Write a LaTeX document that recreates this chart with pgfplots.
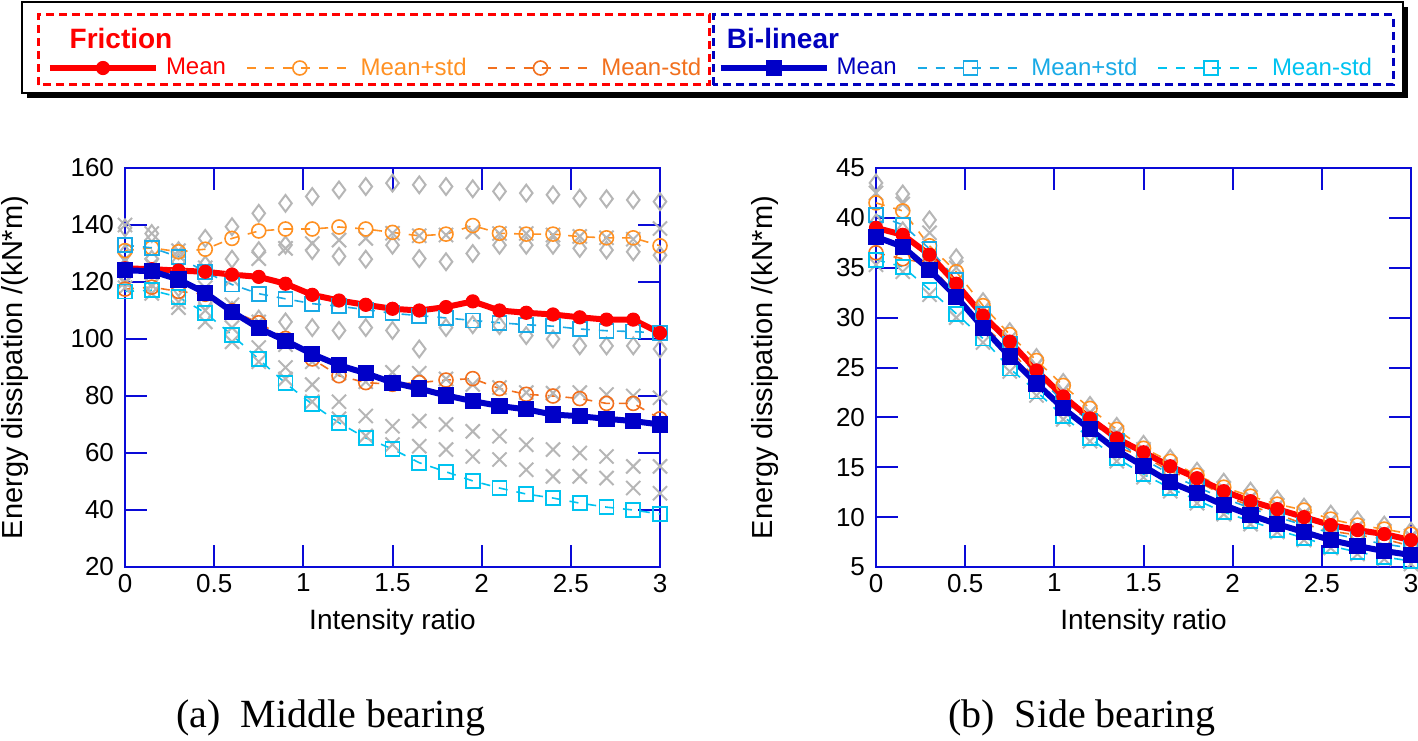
\documentclass[border=0pt]{standalone}
\usepackage{fontspec}
\setmainfont{Liberation Sans}
\newfontfamily\capfont{Liberation Serif}
\usepackage{pgfplots}
\usepackage{pgfplotstable}
\pgfplotsset{compat=1.18}
\usetikzlibrary{plotmarks}

\definecolor{cred}{RGB}{255,0,0}
\definecolor{corangeP}{RGB}{255,145,35}
\definecolor{corangeN}{RGB}{242,112,30}
\definecolor{cbluem}{RGB}{0,0,200}
\definecolor{cbluelg}{RGB}{0,0,190}
\definecolor{ccyanP}{RGB}{25,170,230}
\definecolor{ccyanN}{RGB}{0,195,240}
\definecolor{cgray}{RGB}{182,182,182}
\definecolor{cblueax}{RGB}{10,10,215}

\pgfplotstableread{
x     fm     fp     fn     bm     bp     bn     d1     d2     d3     x1     x2    x3    x4
0     124.8  131.0  117.5  124.1  132.9  116.7  139.0  130.0  122.0  140.0  128.0 120.0 118.0
0.15  124.5  132.0  118.2  123.8  132.0  117.1  137.0  128.0  121.0  137.0  126.0 119.0 116.0
0.3   124.0  130.6  116.7  120.9  128.8  114.7  131.0  127.0  118.0  131.0  122.0 113.0 111.0
0.45  123.6  131.5  115.7  116.2  123.5  109.2  135.3  126.0  113.0  125.0  118.0 110.0 106.0
0.6   122.6  135.3  109.9  109.6  119.1  101.4  139.4  128.0  110.0  121.0  112.0 104.0 99.0
0.75  121.8  137.9  105.7  103.8  115.9  92.9   144.1  131.0  107.0  128.2  106.0 97.0  92.0
0.9   119.4  138.6  100.2  99.4   114.1  84.5   147.6  133.0  106.0  131.8  98.0  90.0  86.0
1.05  115.5  138.6  93.0   94.7   112.4  77.1   150.0  131.0  104.0  133.5  92.0  84.0  78.0
1.2   113.5  139.3  87.1   90.8   111.5  70.6   152.3  129.0  103.0  134.7  88.0  78.0  72.0
1.35  112.0  138.6  84.7   88.0   110.3  65.3   153.5  128.0  104.0  135.3  85.0  73.0  66.0
1.5   110.6  137.4  84.1   84.7   109.0  61.4   154.7  132.9  103.0  137.1  88.3  69.4  63.0
1.65  110.0  136.2  84.7   82.6   108.2  56.6   154.1  128.2  96.5   136.2  88.0  71.2  62.4
1.8   111.2  136.8  85.6   80.2   107.4  53.4   153.5  127.1  104.0  136.5  86.0  70.0  61.2
1.95  113.2  139.8  86.1   78.2   106.5  50.2   152.7  130.0  105.0  137.6  84.0  67.6  58.8
2.1   110.0  137.1  82.6   76.5   105.7  47.7   151.8  132.9  104.7  137.0  83.0  65.9  57.7
2.25  109.2  136.8  80.6   75.3   105.0  45.6   151.2  132.9  101.2  137.0  81.2  62.9  54.1
2.4   108.6  136.8  80.0   73.5   104.5  44.2   150.6  132.9  100.0  136.5  81.0  61.2  51.8
2.55  107.6  135.9  79.1   72.9   103.5  42.4   149.4  131.8  97.6   136.0  81.2  60.0  51.8
2.7   106.8  135.5  77.4   72.0   102.9  41.0   149.2  131.2  97.6   135.5  80.5  58.8  51.2
2.85  106.8  135.5  77.4   71.2   102.6  40.0   148.8  130.6  97.6   135.0  80.0  55.3  47.7
3     102.1  132.7  72.0   70.0   102.1  38.6   148.2  129.4  96.5   138.8  79.4  55.3  45.9
}\tabL

\pgfplotstableread{
x     fm    fp    fn    bm    bp    bn    d1    d2    x1    x2
0     39.0  41.5  36.5  38.1  40.3  35.8  43.5  39.5  42.5  35.3
0.15  38.3  40.7  35.9  37.1  39.3  35.1  42.4  38.7  41.4  34.6
0.3   36.3  37.2  35.4  34.8  36.9  32.8  39.8  36.0  38.5  32.3
0.45  33.4  34.6  32.2  32.1  33.8  30.4  36.0  33.0  35.0  30.0
0.6   30.2  31.2  29.2  29.0  30.4  27.9  31.6  30.0  30.8  27.5
0.75  27.6  28.3  26.9  26.1  27.4  24.9  28.6  27.0  27.9  24.6
0.9   24.7  25.7  23.7  23.4  24.2  22.6  26.0  24.4  25.2  22.2
1.05  22.1  23.2  21.0  20.9  21.6  20.1  23.5  21.9  22.7  19.8
1.2   19.9  20.9  18.9  18.8  19.6  17.9  21.2  19.7  20.5  17.6
1.35  17.9  18.8  17.0  16.7  17.6  15.9  19.1  17.7  18.5  15.6
1.5   16.5  16.9  16.1  15.1  15.8  14.3  17.3  16.0  16.8  14.0
1.65  15.1  15.6  14.6  13.5  14.3  12.9  15.9  14.5  15.3  12.6
1.8   13.9  14.2  13.6  12.4  13.0  11.7  14.6  13.2  14.0  11.4
1.95  12.6  13.0  12.2  11.2  11.9  10.5  13.5  12.1  12.9  10.3
2.1   11.6  12.1  11.1  10.2  10.9  9.6   12.6  11.1  12.0  9.3
2.25  10.8  11.3  10.3  9.3   10.0  8.7   11.8  10.3  11.2  8.5
2.4   10.0  10.7  9.3   8.5   9.2   7.9   11.0  9.5   10.4  7.7
2.55  9.2   9.8   8.6   7.7   8.4   7.1   10.3  8.8   9.7   6.9
2.7   8.7   9.2   8.2   7.1   7.8   6.5   9.7   8.1   9.1   6.3
2.85  8.3   8.8   7.8   6.6   7.3   6.0   9.2   7.6   8.6   5.8
3     7.7   8.3   7.1   6.2   6.9   5.6   8.6   7.1   8.1   5.3
}\tabR

\pgfplotsset{
  fmean/.style={cred, solid, line width=3pt, mark=*, mark size=3.3pt,
    mark options={solid, fill=cred, draw=cred, line width=0.5pt}},
  fplus/.style={corangeP, dash pattern=on 4.5pt off 4.5pt, line width=0.8pt, mark=o, mark size=3.5pt,
    mark options={solid, line width=0.8pt}},
  fminus/.style={corangeN, dash pattern=on 4.5pt off 4.5pt, line width=0.8pt, mark=o, mark size=3.5pt,
    mark options={solid, line width=0.8pt}},
  bmean/.style={cbluem, solid, line width=3pt, mark=square*, mark size=3.8pt,
    mark options={solid, fill=cbluem, draw=cbluem, line width=0.5pt}},
  bplus/.style={ccyanP, dash pattern=on 4.5pt off 4.5pt, line width=0.8pt, mark=square, mark size=3.5pt,
    mark options={solid, line width=0.9pt}},
  bminus/.style={ccyanN, dash pattern=on 4.5pt off 4.5pt, line width=0.8pt, mark=square, mark size=3.5pt,
    mark options={solid, line width=0.9pt}},
  gdia/.style={cgray, only marks, mark=diamond, mark size=4.2pt, mark options={solid, line width=1pt}},
  gx/.style={cgray, only marks, mark=x, mark size=5pt, mark options={solid, line width=1pt}},
  common/.style={
    scale only axis, width=267.5pt, height=199.5pt,
    xmin=0, xmax=3, xtick={0,0.5,1,1.5,2,2.5,3},
    tick align=inside, tick pos=both, xticklabel pos=lower, yticklabel pos=left,
    major tick length=11pt,
    axis line style={cblueax, line width=1pt},
    tick style={cblueax, line width=1pt},
    tick label style={font=\fontsize{13}{15}\selectfont, text=black},
    y tick label style={xshift=-2pt},
    /pgf/number format/.cd, fixed, assume math mode=true, /pgfplots/.cd,
    xlabel={Intensity ratio}, ylabel={Energy dissipation /(kN*m)},
    xlabel style={font=\fontsize{14}{16}\selectfont, at={(axis description cs:0.5,-0.1378)}, anchor=center},
    ylabel style={font=\fontsize{14.5}{16}\selectfont, anchor=center},
    clip=false,
    legend columns=3, legend cell align=left,
    legend style={draw=none, fill=none, inner sep=0pt, outer sep=0pt, anchor=west,
      font=\fontsize{12}{14}\selectfont,
      /tikz/every odd column/.append style={column sep=1.5pt},
      /tikz/every even column/.append style={column sep=8pt}},
    legend image code/.code={\draw[mark repeat=2,mark phase=2,##1] plot coordinates {(0pt,0pt) (26.5pt,0pt) (53pt,0pt)};},
  },
}

\begin{document}
\begin{tikzpicture}
\useasboundingbox (0,0) rectangle (709pt,370pt);
% legend frame
\fill[black] (13.5pt,321pt) rectangle (704pt,366.5pt);
\draw[black, line width=1pt, fill=white] (11pt,323.5pt) rectangle (701.5pt,369pt);
\draw[cred, line width=1.5pt, dash pattern=on 4pt off 2.5pt] (19pt,327.5pt) rectangle (354.5pt,362.5pt);
\draw[cbluelg, line width=1.5pt, dash pattern=on 4pt off 2.5pt] (356.5pt,327.5pt) rectangle (696.5pt,362.5pt);
\node[font=\bfseries\fontsize{14}{16}\selectfont, text=cred] at (60.5pt,351pt) {Friction};
\node[font=\bfseries\fontsize{14}{16}\selectfont, text=cbluelg] at (391.5pt,351pt) {Bi-linear};

% (a) middle bearing
\begin{axis}[common, at={(62.5pt,86.5pt)}, anchor=south west,
  ymin=20, ymax=160, ytick={20,40,60,80,100,120,140,160},
  ylabel style={at={(axis description cs:-0.2056,0.5)}},
  legend style={at={(axis description cs:-0.1458,1.2506)}}]
\addplot[gdia, forget plot] table[x=x,y=d1]{\tabL};
\addplot[gdia, forget plot] table[x=x,y=d2]{\tabL};
\addplot[gdia, forget plot] table[x=x,y=d3]{\tabL};
\addplot[gx, forget plot] table[x=x,y=x1]{\tabL};
\addplot[gx, forget plot] table[x=x,y=x2]{\tabL};
\addplot[gx, forget plot] table[x=x,y=x3]{\tabL};
\addplot[gx, forget plot] table[x=x,y=x4]{\tabL};
\addplot[fplus, forget plot] table[x=x,y=fp]{\tabL};
\addplot[fminus, forget plot] table[x=x,y=fn]{\tabL};
\addplot[bplus, forget plot] table[x=x,y=bp]{\tabL};
\addplot[bminus, forget plot] table[x=x,y=bn]{\tabL};
\addplot[fmean, forget plot] table[x=x,y=fm]{\tabL};
\addplot[bmean, forget plot] table[x=x,y=bm]{\tabL};
\addlegendimage{fmean}\addlegendentry[text=cred]{Mean}
\addlegendimage{fplus}\addlegendentry[text=corangeP]{Mean+std}
\addlegendimage{fminus}\addlegendentry[text=corangeN]{Mean-std}
\end{axis}

% (b) side bearing
\begin{axis}[common, at={(438pt,86.5pt)}, anchor=south west,
  ymin=5, ymax=45, ytick={5,10,15,20,25,30,35,40,45},
  ylabel style={at={(axis description cs:-0.2079,0.5)}},
  legend style={at={(axis description cs:-0.2959,1.2506)}}]
\addplot[gdia, forget plot] table[x=x,y=d1]{\tabR};
\addplot[gdia, forget plot] table[x=x,y=d2]{\tabR};
\addplot[gx, forget plot] table[x=x,y=x1]{\tabR};
\addplot[gx, forget plot] table[x=x,y=x2]{\tabR};
\addplot[fplus, forget plot] table[x=x,y=fp]{\tabR};
\addplot[fminus, forget plot] table[x=x,y=fn]{\tabR};
\addplot[bplus, forget plot] table[x=x,y=bp]{\tabR};
\addplot[bminus, forget plot] table[x=x,y=bn]{\tabR};
\addplot[fmean, forget plot] table[x=x,y=fm]{\tabR};
\addplot[bmean, forget plot] table[x=x,y=bm]{\tabR};
\addlegendimage{bmean}\addlegendentry[text=cbluelg]{Mean}
\addlegendimage{bplus}\addlegendentry[text=ccyanP]{Mean+std}
\addlegendimage{bminus}\addlegendentry[text=ccyanN]{Mean-std}
\end{axis}

\node[font=\capfont\fontsize{20}{24}\selectfont] at (165.5pt,11pt) {(a)\ \ Middle bearing};
\node[font=\capfont\fontsize{20}{24}\selectfont] at (541pt,11pt) {(b)\ \ Side bearing};
\end{tikzpicture}
\end{document}
